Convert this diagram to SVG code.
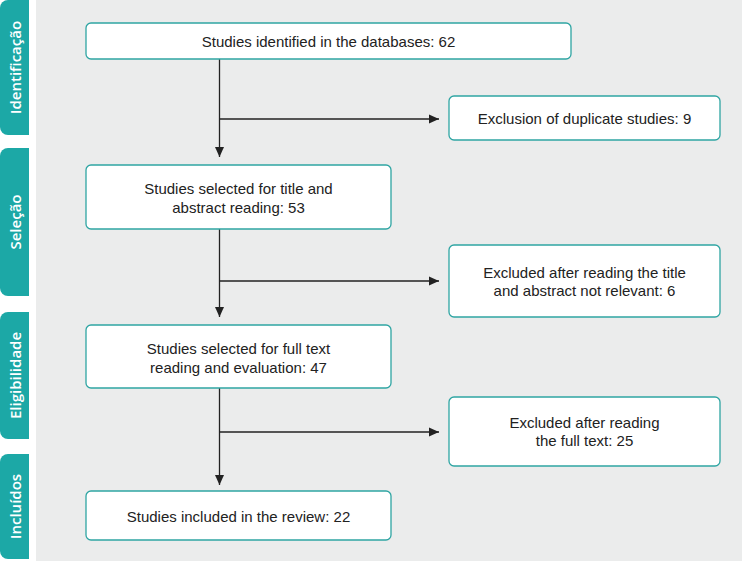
<svg xmlns="http://www.w3.org/2000/svg" width="742" height="561" viewBox="0 0 742 561">
  <style>
    .tab { fill: #1ca8a6; }
    .tabtxt { fill: #ffffff; font-family: "Open Sans", "Liberation Sans", sans-serif; font-size: 15px; font-weight: 600; text-anchor: middle; }
    .box { fill: #ffffff; stroke: #2fa5a3; stroke-width: 1.3; }
    .txt { fill: #222222; font-family: "Liberation Sans", Arial, sans-serif; font-size: 15px; text-anchor: middle; }
    .conn { stroke: #222222; stroke-width: 1.3; fill: none; marker-end: url(#arr); }
  </style>
  <defs>
    <marker id="arr" markerUnits="userSpaceOnUse" markerWidth="11" markerHeight="10" refX="10" refY="5" orient="auto">
      <path d="M0,0.5 L10,5 L0,9.5 Z" fill="#222222"/>
    </marker>
  </defs>
  <rect x="0" y="0" width="742" height="561" fill="#ffffff"/>
  <rect x="36" y="0" width="706" height="561" fill="#ebecec"/>

  <g id="tab-identificacao">
    <path class="tab" d="M29,0 V135 H8 A8,8 0 0 1 0,127 V8 A8,8 0 0 1 8,0 Z"/>
    <text class="tabtxt" transform="translate(20.5,67.5) rotate(-90)">Identificação</text>
  </g>
  <g id="tab-selecao">
    <path class="tab" d="M29,148 V296 H8 A8,8 0 0 1 0,288 V156 A8,8 0 0 1 8,148 Z"/>
    <text class="tabtxt" transform="translate(20.5,222) rotate(-90)">Seleção</text>
  </g>
  <g id="tab-elegibilidade">
    <path class="tab" d="M29,312 V439 H8 A8,8 0 0 1 0,431 V320 A8,8 0 0 1 8,312 Z"/>
    <text class="tabtxt" transform="translate(20.5,375.5) rotate(-90)">Eligibilidade</text>
  </g>
  <g id="tab-incluidos">
    <path class="tab" d="M29,454 V559 H8 A8,8 0 0 1 0,551 V462 A8,8 0 0 1 8,454 Z"/>
    <text class="tabtxt" transform="translate(20.5,506.5) rotate(-90)">Incluídos</text>
  </g>

  <g id="connectors">
    <path class="conn" d="M219.5,59 V157"/>
    <path class="conn" d="M219.5,119 H439"/>
    <path class="conn" d="M219.5,229 V317"/>
    <path class="conn" d="M219.5,281 H439"/>
    <path class="conn" d="M219.5,388 V485"/>
    <path class="conn" d="M219.5,432 H439"/>
  </g>

  <g id="identified">
    <rect class="box" x="86" y="23" width="485" height="36" rx="5"/>
    <text class="txt" x="328.5" y="46.5">Studies identified in the databases: 62</text>
  </g>
  <g id="duplicates">
    <rect class="box" x="449" y="96" width="271" height="44" rx="5"/>
    <text class="txt" x="584.5" y="123.5">Exclusion of duplicate studies: 9</text>
  </g>
  <g id="selected-title">
    <rect class="box" x="86" y="165" width="305" height="64" rx="5"/>
    <text class="txt" x="238.5" y="194">Studies selected for title and</text>
    <text class="txt" x="238.5" y="212.5">abstract reading: 53</text>
  </g>
  <g id="excluded-title">
    <rect class="box" x="449" y="245" width="271" height="72" rx="5"/>
    <text class="txt" x="584.5" y="278">Excluded after reading the title</text>
    <text class="txt" x="584.5" y="296">and abstract not relevant: 6</text>
  </g>
  <g id="selected-full">
    <rect class="box" x="86" y="325" width="305" height="63" rx="5"/>
    <text class="txt" x="238.5" y="354">Studies selected for full text</text>
    <text class="txt" x="238.5" y="372.5">reading and evaluation: 47</text>
  </g>
  <g id="excluded-full">
    <rect class="box" x="449" y="397" width="271" height="69" rx="5"/>
    <text class="txt" x="584.5" y="428">Excluded after reading</text>
    <text class="txt" x="584.5" y="446">the full text: 25</text>
  </g>
  <g id="included">
    <rect class="box" x="86" y="491" width="305" height="49" rx="5"/>
    <text class="txt" x="238.5" y="521.5">Studies included in the review: 22</text>
  </g>
</svg>
